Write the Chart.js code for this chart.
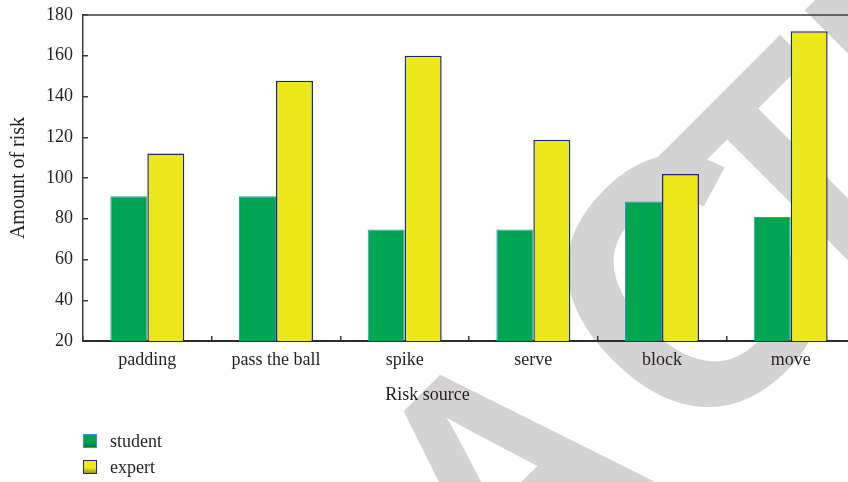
<!DOCTYPE html>
<html>
<head>
<meta charset="utf-8">
<script src="https://cdn.jsdelivr.net/npm/chart.js@4.4.1/dist/chart.umd.min.js"></script>
<style>
  html, body { margin: 0; padding: 0; background: #fff; overflow: hidden; }
  #wrap { position: relative; width: 848px; height: 482px; overflow: hidden; }
  #legend { position: absolute; left: 83px; top: 428px; font: 18px "Liberation Serif", serif; color: #231f20; }
  .item { display: flex; align-items: center; height: 26px; }
  .box { width: 14px; height: 14px; margin-right: 13px; box-sizing: border-box; }
</style>
</head>
<body>
<div id="wrap">
  <canvas id="grafica" width="860" height="482"></canvas>
  <div id="legend"></div>
</div>
<script>
const categories = ['padding', 'pass the ball', 'spike', 'serve', 'block', 'move'];
const student = [91, 91, 74.7, 74.7, 88.5, 80.8];
const expert = [112, 147.7, 160, 118.8, 102, 172];
const seriesNames = ['student', 'expert'];

const axisColor = '#3c3c3c';
const textColor = '#231f20';

Chart.defaults.font.family = '"Liberation Serif", serif';
Chart.defaults.font.size = 18;
Chart.defaults.color = textColor;

// grey stamp letters behind the plot (only "ACTE" of it shows)
// [letter, offset along the slanted baseline, align, scale]
const stampLetters = [['A', 0, 'center', 1], ['C', 265, 'center', 1.1], ['T', 417, 'center', 1], ['E', 521, 'left', 1]];
const watermark = {
  id: 'watermark',
  beforeDraw(chart) {
    const ctx = chart.ctx;
    ctx.save();
    ctx.font = 'bold 330px "Liberation Sans"';
    ctx.fillStyle = '#d3d3d3';
    ctx.translate(417, 388);
    ctx.rotate(-Math.PI / 4);
    stampLetters.forEach(([ch, u, align, s]) => {
      ctx.save();
      ctx.translate(u, 117);
      ctx.scale(0.92 * s, s);
      ctx.textAlign = align;
      ctx.fillText(ch, 0, 117);
      ctx.restore();
    });
    ctx.restore();
  }
};

// closing line along the top of the plot
const topLine = {
  id: 'topLine',
  afterDraw(chart) {
    const { ctx, chartArea } = chart;
    ctx.save();
    ctx.strokeStyle = axisColor;
    ctx.lineWidth = 1.5;
    ctx.beginPath();
    ctx.moveTo(chartArea.left, chartArea.top);
    ctx.lineTo(chartArea.right, chartArea.top);
    ctx.stroke();
    ctx.restore();
  }
};

const ctx = document.getElementById('grafica').getContext('2d');
const chart = new Chart(ctx, {
  type: 'bar',
  data: {
    labels: categories,
    datasets: [{
      label: seriesNames[0],
      data: student,
      backgroundColor: '#00a551',
      borderColor: '#3d8fd1',
      borderWidth: 1
    }, {
      label: seriesNames[1],
      data: expert,
      backgroundColor: '#ece81a',
      borderColor: '#1c2b6e',
      borderWidth: 1.5
    }]
  },
  options: {
    responsive: false,
    animation: false,
    categoryPercentage: 0.575,
    barPercentage: 1,
    layout: { padding: { top: 15, right: 5, left: 0, bottom: 0 } },
    plugins: {
      legend: { display: false },
      tooltip: { enabled: false },
      title: {
        display: true,
        position: 'bottom',
        text: 'Risk source',
        color: textColor,
        font: { size: 18, weight: 'normal' },
        padding: { top: 0, bottom: 76 }
      }
    },
    scales: {
      x: {
        grid: { drawOnChartArea: false, tickLength: -5, color: axisColor, lineWidth: 1.5 },
        border: { display: true, color: '#2b2b2b', width: 2 },
        ticks: { padding: 13, color: textColor },
        afterFit(scale) { scale.height = 43.4; }
      },
      y: {
        min: 20,
        max: 180,
        ticks: { stepSize: 20, padding: 15, color: textColor },
        grid: { drawOnChartArea: false, tickLength: -5, color: axisColor, lineWidth: 1.5 },
        border: { display: true, color: axisColor, width: 1.5 },
        title: { display: true, text: 'Amount of risk', color: textColor, font: { size: 20 }, padding: { top: 7 } },
        afterFit(scale) {
          scale.width = 83;
          scale.paddingTop = 0;
          scale.paddingBottom = 0;
        }
      }
    }
  },
  plugins: [watermark, topLine]
});

// legend stacked under the chart, boxes shaded a little towards the bottom
const legend = document.getElementById('legend');
const boxShade = ['#007a3c', '#9a9620'];
chart.data.datasets.forEach((ds, i) => {
  const item = document.createElement('div');
  item.className = 'item';
  const box = document.createElement('span');
  box.className = 'box';
  box.style.background = `linear-gradient(${ds.backgroundColor} 55%, ${boxShade[i]})`;
  box.style.border = '1px solid ' + ds.borderColor;
  item.appendChild(box);
  item.appendChild(document.createTextNode(ds.label));
  legend.appendChild(item);
});
</script>
</body>
</html>
